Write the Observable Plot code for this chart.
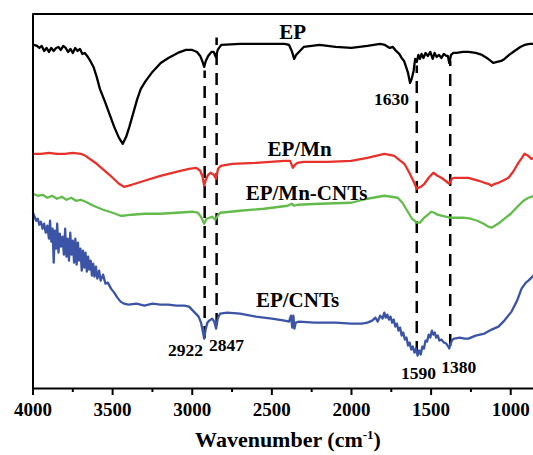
<!DOCTYPE html>
<html>
<head>
<meta charset="utf-8">
<script src="https://cdn.jsdelivr.net/npm/d3@7"></script>
<script src="https://cdn.jsdelivr.net/npm/@observablehq/plot@0.6"></script>
<style>
  html, body { margin: 0; padding: 0; background: #fff; overflow: hidden; }
  #chart svg, #chart svg text { font-family: 'Liberation Serif', serif; font-weight: bold; }
  #chart svg [aria-label^="x-axis"] line,
  #chart svg [aria-label^="x-axis"] path { stroke-width: 2px; }
  #title { font-family: 'Liberation Serif', serif; font-weight: bold; font-size: 22px;
           line-height: 30px; width: 533px; box-sizing: border-box; padding-left: 43px; text-align: center; color: #000; }
  #title sup { font-size: 13px; vertical-align: 8px; line-height: 0; }
</style>
</head>
<body>
<div id="chart"></div>
<div id="title">Wavenumber (cm<sup>-1</sup>)</div>
<script>
// Spectra: [wavenumber (cm-1), transmittance offset (a.u.)]
const EP = [[3995,344],[3975,343],[3960,341],[3945,343],[3930,338],[3915,341],[3900,337],[3885,341],[3870,338],[3855,341],[3840,342],[3825,339],[3810,343],[3795,341],[3780,337],[3765,340],[3750,336],[3735,341],[3720,338],[3705,340],[3690,335],[3675,336],[3660,333],[3640,328],[3620,322],[3600,312],[3580,300],[3550,288],[3520,275],[3490,262],[3460,251],[3436,245],[3415,252],[3395,262],[3370,276],[3345,290],[3323,300],[3292,308],[3250,317],[3198,326],[3150,331],[3091,336],[3040,339],[3000,339],[2970,337],[2950,333],[2935,327],[2925,322],[2915,328],[2900,333],[2880,337],[2865,337],[2852,332],[2840,339],[2818,344],[2700,345],[2550,345],[2420,345],[2392,344],[2375,338],[2360,330],[2348,334],[2330,337],[2300,342],[2200,344],[2100,342],[2000,341],[1900,343],[1820,345],[1790,344],[1760,341],[1740,342],[1720,338],[1700,335],[1685,331],[1670,328],[1655,321],[1645,316],[1632,306],[1622,310],[1610,318],[1600,330],[1590,327],[1580,334],[1570,330],[1560,335],[1548,331],[1535,336],[1520,333],[1505,337],[1490,330],[1478,336],[1465,332],[1450,334],[1435,331],[1420,335],[1405,333],[1395,333],[1386,326],[1375,334],[1360,336],[1340,336],[1300,337],[1266,337],[1220,336],[1180,334],[1150,331],[1110,326],[1085,327],[1060,328],[1039,330],[1010,334],[976,338],[940,342],[913,344],[880,345],[855,345]];

const EP_Mn = [[4000,235],[3950,235],[3900,236],[3850,235],[3800,235],[3750,236],[3700,235],[3670,233],[3600,225],[3520,214],[3460,205],[3429,202],[3380,204],[3300,208],[3200,213],[3100,217],[3020,220],[2975,221],[2950,218],[2935,212],[2925,203],[2915,209],[2900,214],[2885,216],[2865,214],[2850,210],[2838,220],[2820,223],[2750,225],[2600,226],[2420,228],[2385,228],[2368,221],[2355,224],[2340,226],[2300,227],[2150,227],[2002,228],[1900,231],[1820,234],[1794,235],[1760,234],[1731,233],[1700,229],[1668,225],[1640,217],[1612,208],[1590,200],[1565,202],[1542,205],[1515,211],[1486,216],[1460,213],[1436,211],[1410,208],[1386,205],[1370,210],[1354,211],[1300,211],[1266,211],[1200,208],[1165,206],[1140,205],[1121,203],[1100,205],[1077,206],[1050,208],[1014,211],[985,217],[952,226],[930,231],[914,235],[890,233],[870,230],[851,231]];

const EP_Mn_CNTs = [[4000,195],[3970,193],[3940,194],[3910,191],[3880,193],[3850,190],[3820,192],[3790,189],[3760,191],[3730,188],[3700,189],[3670,187],[3620,183],[3560,179],[3500,176],[3450,173],[3429,173],[3380,174],[3300,175],[3200,175],[3100,176],[3000,177],[2965,176],[2945,172],[2925,165],[2910,170],[2893,171],[2875,172],[2855,169],[2840,173],[2825,176],[2700,178],[2550,180],[2400,183],[2375,185],[2360,183],[2340,184],[2200,185],[2002,186],[1900,190],[1830,192],[1794,193],[1750,192],[1710,191],[1680,186],[1650,178],[1620,170],[1590,166],[1570,166],[1550,170],[1520,174],[1500,177],[1480,176],[1460,174],[1436,173],[1410,172],[1380,171],[1340,171],[1300,171],[1250,170],[1210,168],[1170,165],[1140,162],[1121,161],[1100,163],[1070,166],[1039,170],[1000,175],[952,183],[920,188],[889,191],[851,193]];

const EP_CNTs = [[4000,176],[3990,172],[3980,168],[3970,170],[3960,164],[3950,167],[3940,160],[3930,165],[3920,156],[3910,163],[3900,150],[3893,168],[3885,147],[3877,160],[3870,126],[3863,158],[3855,140],[3848,165],[3840,136],[3832,155],[3824,142],[3815,152],[3806,134],[3798,160],[3790,132],[3782,150],[3774,128],[3766,156],[3758,134],[3750,148],[3742,126],[3734,150],[3726,124],[3718,146],[3710,128],[3702,140],[3694,118],[3686,138],[3678,121],[3670,136],[3662,117],[3654,132],[3646,119],[3638,128],[3630,113],[3622,125],[3614,112],[3605,122],[3596,110],[3585,118],[3575,108],[3560,114],[3545,105],[3530,106],[3510,100],[3490,96],[3470,91],[3450,87],[3429,85],[3400,84],[3350,85],[3300,83],[3250,85],[3200,84],[3150,84],[3100,83],[3050,83],[3020,82],[2990,77],[2960,72],[2945,66],[2935,58],[2925,50],[2915,60],[2905,66],[2893,68],[2875,70],[2862,67],[2850,60],[2840,70],[2825,75],[2780,76],[2700,75],[2600,72],[2500,70],[2420,68],[2392,67],[2380,73],[2372,61],[2365,73],[2358,60],[2350,66],[2330,67],[2234,66],[2100,66],[2002,65],[1935,65],[1900,66],[1870,68],[1850,71],[1835,67],[1820,73],[1805,70],[1794,76],[1785,71],[1775,74],[1765,69],[1755,72],[1745,66],[1735,69],[1725,62],[1715,65],[1705,58],[1695,61],[1685,53],[1675,56],[1665,49],[1655,51],[1645,43],[1635,46],[1625,39],[1615,42],[1605,36],[1595,40],[1585,33],[1575,38],[1565,34],[1555,42],[1545,40],[1535,48],[1525,47],[1515,54],[1505,51],[1495,58],[1486,54],[1477,56],[1468,51],[1458,53],[1448,48],[1436,49],[1420,46],[1405,45],[1392,42],[1386,40],[1378,45],[1365,49],[1354,50],[1320,51],[1290,50],[1266,50],[1220,53],[1165,55],[1120,59],[1077,62],[1040,68],[995,77],[960,88],[932,100],[905,106],[889,108],[870,111],[851,114]];

const seriesNames = ["EP", "EP/Mn", "EP/Mn-CNTs", "EP/CNTs"];
const seriesColors = ["#000000", "#e8312a", "#62bb4a", "#3b54a5"];
// label anchor: [wavenumber, offset]
const seriesLabelPos = [[2370,357],[2326,240],[2282,195],[2339,88]];

const peakWn = [2922, 2847, 1590, 1380];
const peakTop = [318, 351, 323, 328];
const peakBottom = [50, 63, 35, 42];

const peakLabels = ["1630", "2922", "2847", "1590", "1380"];
const peakLabelPos = [[1748,289],[3042,38],[2785,43],[1579,15],[1327,21]];

const majorTicks = [4000, 3500, 3000, 2500, 2000, 1500, 1000];
const minorTicks = [3750, 3250, 2750, 2250, 1750, 1250];

const serif = "'Liberation Serif', serif";
const allSeries = [EP, EP_Mn, EP_Mn_CNTs, EP_CNTs];
const lineData = allSeries.flatMap((s, i) => s.map(([w, t]) => ({w, t, name: seriesNames[i]})));
const nameLabels = seriesNames.map((n, i) => ({name: n, w: seriesLabelPos[i][0], t: seriesLabelPos[i][1]}));
const peaks = peakWn.map((w, i) => ({w, y1: peakBottom[i], y2: peakTop[i]}));
const peakText = peakLabels.map((l, i) => ({label: l, w: peakLabelPos[i][0], t: peakLabelPos[i][1]}));

const chart = Plot.plot({
  width: 533,
  height: 425,
  marginLeft: 32.5,
  marginRight: 0,
  marginTop: 13.5,
  marginBottom: 37,
  style: {
    fontFamily: serif,
    fontSize: "19px",
    fontWeight: "bold",
    background: "white",
    color: "black",
    overflow: "visible"
  },
  x: {domain: [4000, 857], ticks: majorTicks, tickSize: 7, tickPadding: 7, tickFormat: d => String(d), label: null},
  y: {domain: [0, 375], axis: null},
  color: {domain: seriesNames, range: seriesColors},
  marks: [
    Plot.ruleX(peaks, {x: "w", y1: "y1", y2: "y2", stroke: "black", strokeWidth: 2.5, strokeDasharray: "12,8"}),
    Plot.line(lineData, {x: "w", y: "t", z: "name", stroke: "name", strokeWidth: 2.3}),
    Plot.ruleX(minorTicks, {y1: 0, y2: -4, stroke: "black", strokeWidth: 2}),
    Plot.ruleY([0, 375], {stroke: "black", strokeWidth: 2}),
    Plot.ruleX([4000], {y1: 0, y2: 375, stroke: "black", strokeWidth: 2}),
    Plot.text(nameLabels, {x: "w", y: "t", text: "name", fontSize: 21, fontFamily: serif, fontWeight: "bold", fill: "black"}),
    Plot.text(peakText, {x: "w", y: "t", text: "label", fontSize: 17.5, fontFamily: serif, fontWeight: "bold", fill: "black"})
  ]
});
document.getElementById("chart").appendChild(chart);
</script>
</body>
</html>
